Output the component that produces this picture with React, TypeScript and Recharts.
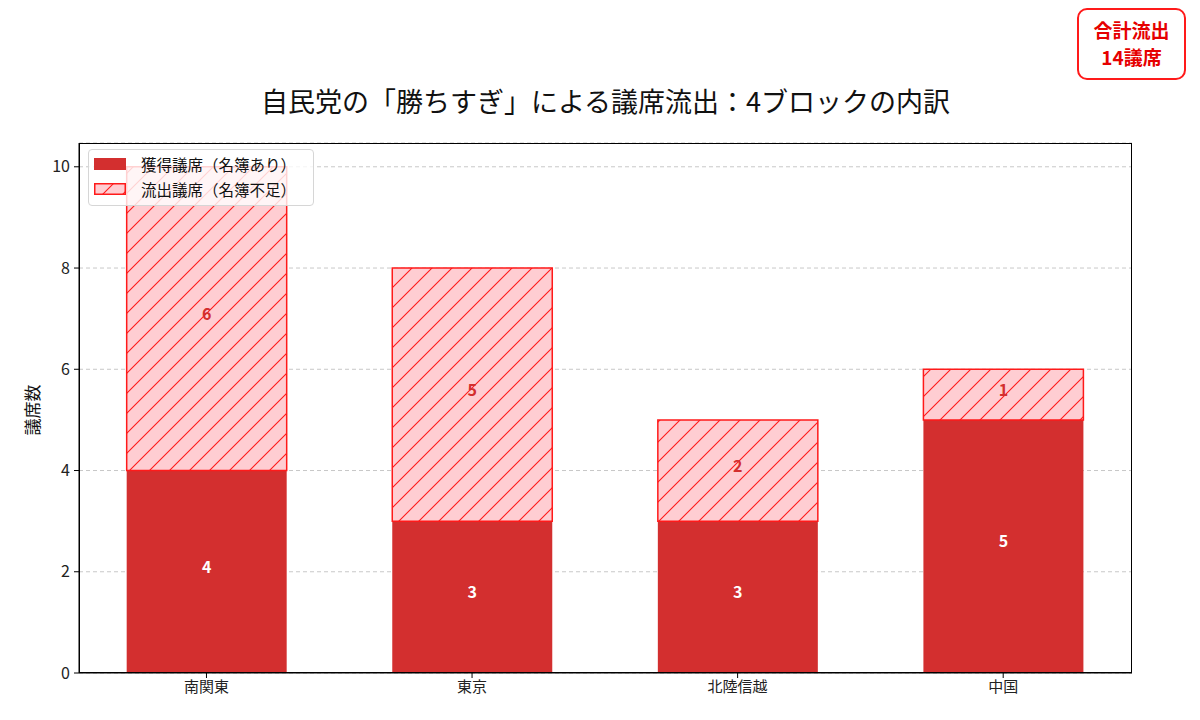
import React from "react";
import {
  ComposedChart,
  Bar,
  XAxis,
  YAxis,
  CartesianGrid,
  LabelList,
} from "recharts";

const blocks = ["南関東", "東京", "北陸信越", "中国"];
const wonSeats = [4, 3, 3, 5];
const lostSeats = [6, 5, 2, 1];
const yTicks = [0, 2, 4, 6, 8, 10];

const data = blocks.map((name, i) => ({
  x: i,
  name,
  won: wonSeats[i],
  lost: lostSeats[i],
}));

const FONT = "'Noto Sans CJK JP', 'Noto Sans', sans-serif";
const DARK = "#d32f2f";
const LIGHT = "#ffcdd2";
const HATCH = "#ff1a1a";

// plot area in page pixels
const PLOT = { left: 79, top: 143, right: 1132, bottom: 673 };

function HatchDefs({ id }: { id: string }) {
  return (
    <defs>
      <pattern id={id} patternUnits="userSpaceOnUse" width={20} height={20}>
        <rect width={20} height={20} fill={LIGHT} />
        <path
          d="M0,20 L20,0 M-5,5 L5,-5 M15,25 L25,15"
          stroke={HATCH}
          strokeWidth={1.1}
        />
      </pattern>
    </defs>
  );
}

// value label a little above the segment middle
const segLabel = (color: string) => (props: any) => {
  const { x, y, width, height, value } = props;
  return (
    <text
      x={x + width / 2}
      y={y + height / 2 - 6}
      textAnchor="middle"
      dominantBaseline="central"
      fill={color}
      fontSize={16}
      fontWeight="bold"
      fontFamily={FONT}
    >
      {value}
    </text>
  );
};

export default function App() {
  return (
    <div style={{ position: "relative", width: 1200, height: 720, fontFamily: FONT, background: "#fff" }}>
      <style>{"body{margin:0}"}</style>

      {/* title */}
      <div
        style={{
          position: "absolute",
          left: PLOT.left,
          width: PLOT.right - PLOT.left,
          top: 100,
          transform: "translateY(-50%)",
          textAlign: "center",
          fontSize: 27,
          color: "#111",
          whiteSpace: "nowrap",
        }}
      >
        自民党の「勝ちすぎ」による議席流出：4ブロックの内訳
      </div>

      {/* y label */}
      <div
        style={{
          position: "absolute",
          left: 31,
          top: 410,
          transform: "translate(-50%, -50%) rotate(-90deg)",
          fontSize: 17,
          color: "#111",
          whiteSpace: "nowrap",
        }}
      >
        議席数
      </div>

      <ComposedChart
        width={1200}
        height={720}
        data={data}
        margin={{ top: PLOT.top, left: PLOT.left - 50, right: 1200 - PLOT.right, bottom: 720 - PLOT.bottom - 40 }}
        style={{ fontFamily: FONT }}
      >
        <HatchDefs id="hatch" />
        <CartesianGrid vertical={false} stroke="#c8c8c8" strokeDasharray="4 3" />
        <XAxis
          dataKey="x"
          type="number"
          domain={[-0.48, 3.485]}
          ticks={[0, 1, 2, 3]}
          tickFormatter={(v) => blocks[v] ?? ""}
          height={40}
          stroke="#000"
          tickSize={5}
          tickMargin={3}
          tick={{ fill: "#222", fontSize: 15 }}
          allowDataOverflow
        />
        <YAxis
          type="number"
          domain={[0, 10.47]}
          ticks={yTicks}
          width={50}
          stroke="#000"
          tickSize={5}
          tickMargin={4}
          tick={{ fill: "#222", fontSize: 16 }}
          allowDataOverflow
        />
        <Bar dataKey="won" stackId="s" fill={DARK} barSize={160} isAnimationActive={false}>
          <LabelList dataKey="won" content={segLabel("#fff")} />
        </Bar>
        <Bar
          dataKey="lost"
          stackId="s"
          fill="url(#hatch)"
          stroke={HATCH}
          strokeWidth={1.5}
          barSize={160}
          isAnimationActive={false}
        >
          <LabelList dataKey="lost" content={segLabel(DARK)} />
        </Bar>
      </ComposedChart>

      {/* frame */}
      <div
        style={{
          position: "absolute",
          left: PLOT.left,
          top: PLOT.top,
          width: PLOT.right - PLOT.left,
          height: PLOT.bottom - PLOT.top,
          border: "1px solid #000",
          boxSizing: "border-box",
          pointerEvents: "none",
        }}
      />

      {/* legend */}
      <div
        style={{
          position: "absolute",
          left: 88,
          top: 149,
          width: 226,
          height: 57,
          border: "1px solid #d6d6d6",
          borderRadius: 4,
          background: "rgba(255,255,255,0.8)",
          boxSizing: "border-box",
          fontSize: 15.5,
          color: "#111",
        }}
      >
        <div style={{ position: "absolute", left: 5, top: 3, display: "flex", alignItems: "center", whiteSpace: "nowrap" }}>
          <svg width={32} height={12} style={{ marginRight: 15 }}>
            <rect width={32} height={12} fill={DARK} />
          </svg>
          <span>獲得議席（名簿あり）</span>
        </div>
        <div style={{ position: "absolute", left: 5, top: 28, display: "flex", alignItems: "center", whiteSpace: "nowrap" }}>
          <svg width={32} height={12} style={{ marginRight: 15 }}>
            <HatchDefs id="hatchLegend" />
            <rect x={0.75} y={0.75} width={30.5} height={10.5} fill="url(#hatchLegend)" stroke={HATCH} strokeWidth={1.5} />
          </svg>
          <span>流出議席（名簿不足）</span>
        </div>
      </div>

      {/* total box */}
      <div
        style={{
          position: "absolute",
          left: 1077,
          top: 8,
          width: 109,
          height: 72,
          border: "2px solid #ff1a1a",
          borderRadius: 10,
          background: "#fff",
          boxSizing: "border-box",
          color: "#e60000",
          fontWeight: "bold",
          fontSize: 19,
          lineHeight: "27px",
          textAlign: "center",
          paddingTop: 6,
        }}
      >
        <div>合計流出</div>
        <div>14議席</div>
      </div>
    </div>
  );
}
